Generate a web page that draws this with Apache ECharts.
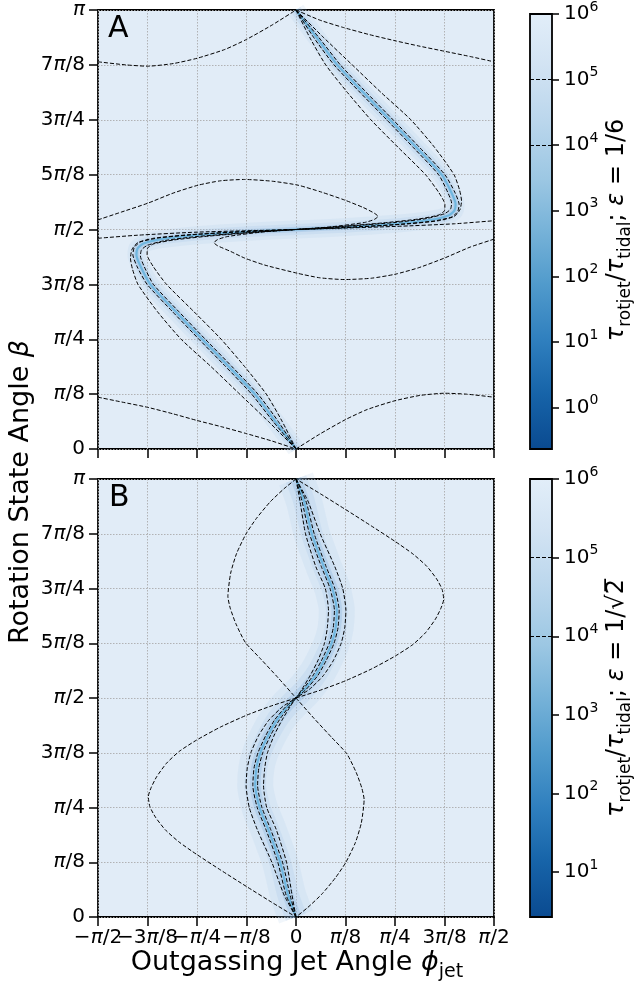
<!DOCTYPE html>
<html><head><meta charset="utf-8">
<script src="https://cdn.jsdelivr.net/npm/echarts@6/dist/echarts.min.js"></script>
<style>html,body{margin:0;padding:0;background:#fff}#c{width:637px;height:985px}</style>
</head><body><div id="c"></div>
<script>
// ---------- tick values / labels (units of pi) ----------
const xTickValues = [-0.5,-0.375,-0.25,-0.125,0,0.125,0.25,0.375,0.5];
const xTickLabels = ['−π/2','−3π/8','−π/4','−π/8','0','π/8','π/4','3π/8','π/2'];
const yTickValues = [0,0.125,0.25,0.375,0.5,0.625,0.75,0.875,1];
const yTickLabels = ['0','π/8','π/4','3π/8','π/2','5π/8','3π/4','7π/8','π'];
// colorbar: log10 range and decade ticks
const cbarRangeA = [-0.63, 6];
const cbarRangeB = [0.43, 6];
const cbarTicksA = [0,1,2,3,4,5,6];
const cbarTicksB = [1,2,3,4,5,6];
const contourLevels = [4,5];

// ---------- Panel A (eps = 1/6) contour lines, [phi/pi, beta/pi] ----------
const A_topLeft = [[-0.5,0.882],[-0.43,0.875],[-0.375,0.872],[-0.31,0.878],[-0.25,0.89],[-0.18,0.91],[-0.125,0.933],[-0.06,0.966],[0,1]];
const A_topRight = [[0,1],[0.06,0.977],[0.12,0.96],[0.185,0.944],[0.25,0.93],[0.31,0.918],[0.375,0.906],[0.44,0.894],[0.5,0.882]];
const A_botLeft = [[-0.5,0.118],[-0.44,0.107],[-0.375,0.095],[-0.31,0.08],[-0.25,0.065],[-0.185,0.05],[-0.125,0.035],[-0.06,0.018],[0,0]];
const A_botRight = [[0,0],[0.06,0.034],[0.125,0.067],[0.18,0.09],[0.25,0.11],[0.313,0.122],[0.375,0.127],[0.43,0.125],[0.5,0.118]];
const A_horiz = [[-0.5,0.48],[-0.4,0.487],[-0.25,0.494],[0,0.5],[0.25,0.507],[0.4,0.513],[0.5,0.52]];
const A_midUpper = [[-0.5,0.522],[-0.44,0.54],[-0.374,0.56],[-0.31,0.583],[-0.247,0.601],[-0.19,0.611],[-0.13,0.614],[-0.06,0.61],[0.005,0.601],[0.065,0.585],[0.123,0.567],[0.17,0.55],[0.198,0.537],[0.207,0.53],[0.198,0.523],[0.173,0.516],[0.088,0.506],[0,0.5]];
const A_midLower = [[0.5,0.478],[0.44,0.46],[0.375,0.435],[0.31,0.413],[0.25,0.398],[0.19,0.389],[0.123,0.386],[0.06,0.39],[0.005,0.4],[-0.079,0.419],[-0.13,0.435],[-0.165,0.45],[-0.198,0.463],[-0.207,0.47],[-0.198,0.477],[-0.173,0.484],[-0.088,0.494],[0,0.5]];
// upper diagonal band
const A_upRidge = [[0,1],[0.052,0.937],[0.104,0.875],[0.17,0.812],[0.237,0.75],[0.304,0.687],[0.368,0.625],[0.392,0.585],[0.403,0.558],[0.4,0.543],[0.385,0.532],[0.34,0.522],[0.25,0.513],[0.12,0.505],[0,0.5]];
const A_upInnerL = [[0,1],[0.045,0.937],[0.096,0.875],[0.162,0.812],[0.229,0.75],[0.296,0.687],[0.36,0.625],[0.383,0.585],[0.393,0.56],[0.39,0.546],[0.375,0.536],[0.33,0.525],[0.25,0.516],[0.12,0.507],[0,0.5]];
const A_upInnerR = [[0,1],[0.058,0.937],[0.112,0.875],[0.178,0.812],[0.245,0.75],[0.312,0.687],[0.376,0.625],[0.401,0.585],[0.412,0.557],[0.408,0.54],[0.392,0.528],[0.345,0.519],[0.25,0.511],[0.12,0.504],[0,0.5]];
const A_upOuterL = [[0,1],[0.035,0.937],[0.075,0.875],[0.13,0.812],[0.189,0.75],[0.258,0.687],[0.327,0.625],[0.36,0.585],[0.376,0.557],[0.375,0.543],[0.36,0.533],[0.31,0.524],[0.22,0.515],[0.1,0.506],[0,0.5]];
const A_upOuterR = [[0,1],[0.07,0.937],[0.142,0.875],[0.215,0.812],[0.29,0.75],[0.35,0.687],[0.399,0.625],[0.413,0.59],[0.418,0.565],[0.414,0.545],[0.4,0.53],[0.36,0.52],[0.27,0.512],[0.13,0.505],[0,0.5]];
// lower diagonal band
const A_loRidge = [[0,0],[-0.052,0.063],[-0.104,0.125],[-0.17,0.188],[-0.237,0.25],[-0.304,0.313],[-0.368,0.375],[-0.392,0.415],[-0.403,0.442],[-0.4,0.457],[-0.385,0.468],[-0.34,0.478],[-0.25,0.487],[-0.12,0.495],[0,0.5]];
const A_loInnerL = [[0,0],[-0.058,0.063],[-0.112,0.125],[-0.178,0.188],[-0.245,0.25],[-0.312,0.313],[-0.376,0.375],[-0.401,0.415],[-0.412,0.443],[-0.408,0.46],[-0.392,0.472],[-0.345,0.481],[-0.25,0.489],[-0.12,0.496],[0,0.5]];
const A_loInnerR = [[0,0],[-0.045,0.063],[-0.096,0.125],[-0.162,0.188],[-0.229,0.25],[-0.296,0.313],[-0.36,0.375],[-0.383,0.415],[-0.393,0.44],[-0.39,0.454],[-0.375,0.464],[-0.33,0.475],[-0.25,0.484],[-0.12,0.493],[0,0.5]];
const A_loOuterL = [[0,0],[-0.07,0.063],[-0.142,0.125],[-0.215,0.188],[-0.29,0.25],[-0.35,0.313],[-0.399,0.375],[-0.413,0.41],[-0.418,0.435],[-0.414,0.455],[-0.4,0.47],[-0.36,0.48],[-0.27,0.488],[-0.13,0.495],[0,0.5]];
const A_loOuterR = [[0,0],[-0.035,0.063],[-0.075,0.125],[-0.13,0.188],[-0.189,0.25],[-0.258,0.313],[-0.327,0.375],[-0.36,0.415],[-0.376,0.443],[-0.375,0.457],[-0.36,0.467],[-0.31,0.476],[-0.22,0.485],[-0.1,0.494],[0,0.5]];

// ---------- Panel B (eps = 1/sqrt2) contour lines ----------
const B_lobeUpperRight = [[0,0.5],[0.062,0.518],[0.124,0.539],[0.19,0.566],[0.251,0.596],[0.295,0.622],[0.327,0.649],[0.352,0.68],[0.366,0.705],[0.373,0.725],[0.369,0.748],[0.355,0.772],[0.33,0.801],[0.295,0.829],[0.251,0.857],[0.19,0.893],[0.124,0.931],[0.062,0.966],[0,1]];
const B_lobeLowerLeft = [[0,0.5],[-0.062,0.482],[-0.124,0.461],[-0.19,0.434],[-0.251,0.404],[-0.295,0.378],[-0.327,0.351],[-0.352,0.32],[-0.366,0.295],[-0.373,0.275],[-0.369,0.252],[-0.355,0.228],[-0.33,0.199],[-0.295,0.171],[-0.251,0.143],[-0.19,0.107],[-0.124,0.069],[-0.062,0.034],[0,0]];
const B_lobeUpperLeft = [[0,1],[-0.03,0.978],[-0.065,0.948],[-0.1,0.91],[-0.126,0.875],[-0.15,0.83],[-0.165,0.785],[-0.172,0.732],[-0.166,0.705],[-0.152,0.67],[-0.128,0.627],[-0.09,0.59],[-0.045,0.546],[0,0.5]];
const B_lobeLowerRight = [[0,0.5],[0.045,0.454],[0.09,0.41],[0.128,0.373],[0.152,0.33],[0.166,0.295],[0.172,0.268],[0.165,0.215],[0.15,0.17],[0.126,0.125],[0.1,0.09],[0.065,0.052],[0.03,0.022],[0,0]];
const B_upRidge = [[0,1],[0.02,0.95],[0.04,0.875],[0.07,0.8],[0.092,0.75],[0.103,0.7],[0.1,0.66],[0.09,0.625],[0.07,0.585],[0.048,0.55],[0.022,0.52],[0,0.5]];
const B_upInnerL = [[0,1],[0.015,0.95],[0.034,0.875],[0.064,0.8],[0.086,0.75],[0.097,0.7],[0.094,0.66],[0.084,0.625],[0.064,0.585],[0.042,0.55],[0.018,0.52],[0,0.5]];
const B_upInnerR = [[0,1],[0.025,0.95],[0.046,0.875],[0.076,0.8],[0.098,0.75],[0.109,0.7],[0.106,0.66],[0.096,0.625],[0.076,0.585],[0.054,0.55],[0.026,0.52],[0,0.5]];
const B_upOuterL = [[0,1],[0.01,0.95],[0.024,0.875],[0.05,0.8],[0.074,0.75],[0.082,0.7],[0.079,0.66],[0.072,0.625],[0.055,0.585],[0.035,0.55],[0.015,0.52],[0,0.5]];
const B_upOuterR = [[0,1],[0.03,0.95],[0.061,0.875],[0.098,0.8],[0.118,0.75],[0.126,0.7],[0.123,0.66],[0.114,0.625],[0.094,0.585],[0.068,0.55],[0.034,0.52],[0,0.5]];
const B_loRidge = [[0,0],[-0.02,0.05],[-0.04,0.125],[-0.07,0.2],[-0.092,0.25],[-0.103,0.3],[-0.1,0.34],[-0.09,0.375],[-0.07,0.415],[-0.048,0.45],[-0.022,0.48],[0,0.5]];
const B_loInnerL = [[0,0],[-0.025,0.05],[-0.046,0.125],[-0.076,0.2],[-0.098,0.25],[-0.109,0.3],[-0.106,0.34],[-0.096,0.375],[-0.076,0.415],[-0.054,0.45],[-0.026,0.48],[0,0.5]];
const B_loInnerR = [[0,0],[-0.015,0.05],[-0.034,0.125],[-0.064,0.2],[-0.086,0.25],[-0.097,0.3],[-0.094,0.34],[-0.084,0.375],[-0.064,0.415],[-0.042,0.45],[-0.018,0.48],[0,0.5]];
const B_loOuterL = [[0,0],[-0.03,0.05],[-0.061,0.125],[-0.098,0.2],[-0.118,0.25],[-0.126,0.3],[-0.123,0.34],[-0.114,0.375],[-0.094,0.415],[-0.068,0.45],[-0.034,0.48],[0,0.5]];
const B_loOuterR = [[0,0],[-0.01,0.05],[-0.024,0.125],[-0.05,0.2],[-0.074,0.25],[-0.082,0.3],[-0.079,0.34],[-0.072,0.375],[-0.055,0.415],[-0.035,0.45],[-0.015,0.48],[0,0.5]];

// ---------- build ----------
const FONT = 'DejaVu Sans';
const chart = echarts.init(document.getElementById('c'), null, {renderer:'canvas'});

function piLabel(list, vals) {
  return function (v) {
    let i = vals.findIndex(t => Math.abs(t - v) < 1e-6);
    if (i < 0) return '';
    return list[i].replace(/π/g, '{p|π}');
  };
}
const TICKFS = 20;
const piRich = { p: { fontStyle: 'italic', fontSize: TICKFS, fontFamily: FONT, color: '#000' } };
const gridLine = {show:true, lineStyle:{color:'#ababab', width:0.9, type:[1.5,1.5]}};

function mainX(gi, showLabels, labelVals) {
  return { type:'value', gridIndex:gi, min:-0.5, max:0.5, interval:0.125, position:'bottom',
    axisLine:{show:false, onZero:false},
    axisTick:{show:true, inside:false, length:9, lineStyle:{color:'#000', width:1.5}},
    axisLabel:{show:showLabels, margin:11, fontSize:TICKFS, fontFamily:FONT, color:'#000',
      showMinLabel:true, showMaxLabel:true, hideOverlap:false, customValues: labelVals,
      formatter: piLabel(xTickLabels, xTickValues), rich: piRich},
    splitLine:gridLine };
}
// extra label-only axis so that overlapping neighbour labels are all kept
function labelOnlyX(gi, labelVals) {
  return { type:'value', gridIndex:gi, min:-0.5, max:0.5, position:'bottom',
    axisLine:{show:false, onZero:false}, axisTick:{show:false}, splitLine:{show:false},
    axisLabel:{show:true, margin:11, fontSize:TICKFS, fontFamily:FONT, color:'#000',
      hideOverlap:false, customValues: labelVals,
      formatter: piLabel(xTickLabels, xTickValues), rich: piRich} };
}
function mainY(gi) {
  return { type:'value', gridIndex:gi, min:0, max:1, interval:0.125, position:'left',
    axisLine:{show:false, onZero:false},
    axisTick:{show:true, inside:false, length:9, lineStyle:{color:'#000', width:1.5}},
    axisLabel:{show:true, margin:13, fontSize:TICKFS, fontFamily:FONT, color:'#000',
      showMinLabel:true, showMaxLabel:true,
      formatter: piLabel(yTickLabels, yTickValues), rich: piRich},
    splitLine:gridLine };
}
function cbarY(gi, range, ticks) {
  return { type:'value', gridIndex:gi, min:range[0], max:range[1], position:'right',
    axisLine:{show:false, onZero:false},
    axisTick:{show:true, inside:false, length:7, lineStyle:{color:'#000', width:1.5}, customValues: ticks},
    axisLabel:{show:true, margin:12, color:'#000', customValues: ticks,
      formatter: v => '{b|10}{s|' + Math.round(v) + '}',
      rich:{ b:{fontSize:20, fontFamily:FONT, color:'#000', lineHeight:28, verticalAlign:'middle'},
             s:{fontSize:14, fontFamily:FONT, color:'#000', lineHeight:15, verticalAlign:'top'} } },
    splitLine:{show:false} };
}
const cmapStops = [
  {offset:0, color:'#e2eef9'}, {offset:0.12, color:'#d2e3f3'}, {offset:0.25, color:'#bad6ec'},
  {offset:0.38, color:'#9cc7e3'}, {offset:0.5, color:'#76b2d8'}, {offset:0.62, color:'#519bcc'},
  {offset:0.75, color:'#2f7fbe'}, {offset:0.87, color:'#1764a9'}, {offset:1, color:'#0a4a90'} ];
function cbarGrad() { return new echarts.graphic.LinearGradient(0,0,0,1, cmapStops); }

function contour(data, gi) {
  return { type:'line', xAxisIndex:gi, yAxisIndex:gi, data:data, showSymbol:false, symbol:'none',
    smooth:0.2, silent:true, animation:false, z:5,
    lineStyle:{color:'#000', width:1, type:[4,2]} };
}
function glow(data, gi, w, color, alpha, z) {
  return { type:'line', xAxisIndex:gi, yAxisIndex:gi, data:data, showSymbol:false, symbol:'none',
    smooth:0.2, silent:true, animation:false, z:z,
    lineStyle:{color:color, opacity:alpha, width:w, cap:'butt', join:'round'} };
}
function ridgeSeries(data, gi, wide) {
  return [
    glow(data, gi, wide, '#a6c9e8', 0.16, 2),
    glow(data, gi, wide*0.6, '#94bfe3', 0.18, 2),
    glow(data, gi, wide*0.3, '#78addb', 0.25, 3),
    glow(data, gi, 2.2, '#68b4de', 0.9, 4)
  ];
}

const series = [];
ridgeSeries(A_upRidge, 0, 18).forEach(s => series.push(s));
ridgeSeries(A_loRidge, 0, 18).forEach(s => series.push(s));
ridgeSeries(B_upRidge, 1, 36).forEach(s => series.push(s));
ridgeSeries(B_loRidge, 1, 36).forEach(s => series.push(s));
[A_topLeft, A_topRight, A_botLeft, A_botRight, A_horiz, A_midUpper, A_midLower,
 A_upInnerL, A_upInnerR, A_upOuterL, A_upOuterR, A_loInnerL, A_loInnerR, A_loOuterL, A_loOuterR]
  .forEach(d => series.push(contour(d, 0)));
[B_lobeUpperRight, B_lobeLowerLeft, B_lobeUpperLeft, B_lobeLowerRight,
 B_upInnerL, B_upInnerR, B_upOuterL, B_upOuterR, B_loInnerL, B_loInnerR, B_loOuterL, B_loOuterR]
  .forEach(d => series.push(contour(d, 1)));
// colorbar contour-level marks
[[2, cbarRangeA],[3, cbarRangeB]].forEach(([gi, r]) => {
  series.push({ type:'line', xAxisIndex:gi, yAxisIndex:gi, data:[[0, r[0]]], showSymbol:false, symbol:'none',
    silent:true, animation:false, lineStyle:{opacity:0},
    markLine:{ silent:true, symbol:'none', animation:false, label:{show:false},
      lineStyle:{color:'#000', width:1, type:[4,2]},
      data: contourLevels.map(v => ({yAxis:v})) } });
});

const subRich = (base, sub) => ({
  n:{fontSize:base, fontFamily:FONT, color:'#000', lineHeight:base+10, verticalAlign:'middle'},
  i:{fontSize:base, fontFamily:FONT, fontStyle:'italic', color:'#000', lineHeight:base+10, verticalAlign:'middle'},
  s:{fontSize:sub, fontFamily:FONT, color:'#000', lineHeight:sub+1, verticalAlign:'bottom'}
});

const evenX = xTickValues.filter((v, i) => i % 2 === 0);
const oddX = xTickValues.filter((v, i) => i % 2 === 1);

const option = {
  animation:false,
  backgroundColor:'#fff',
  textStyle:{fontFamily:FONT},
  grid:[
    {left:98, top:10, width:396, height:439, show:true, backgroundColor:'#e1ecf7', borderColor:'#000', borderWidth:1.8, z:0},
    {left:98, top:479, width:396, height:438, show:true, backgroundColor:'#e1ecf7', borderColor:'#000', borderWidth:1.8, z:0},
    {left:530, top:10, width:22, height:439, show:true, backgroundColor:cbarGrad(), borderColor:'#000', borderWidth:1.8},
    {left:530, top:479, width:22, height:438, show:true, backgroundColor:cbarGrad(), borderColor:'#000', borderWidth:1.8}
  ],
  xAxis:[ mainX(0,false), mainX(1,true, evenX),
    {type:'value', gridIndex:2, min:0, max:1, show:false},
    {type:'value', gridIndex:3, min:0, max:1, show:false},
    labelOnlyX(1, oddX) ],
  yAxis:[ mainY(0), mainY(1), cbarY(2, cbarRangeA, cbarTicksA), cbarY(3, cbarRangeB, cbarTicksB) ],
  series: series,
  graphic:[
    {type:'text', left:108, top:14, z:100, style:{text:'A', font:'30px "DejaVu Sans"', fill:'#000'}},
    {type:'text', left:109, top:483, z:100, style:{text:'B', font:'30px "DejaVu Sans"', fill:'#000'}},
    {type:'text', x:21, y:492, rotation:Math.PI/2, z:100,
      style:{text:'{n|Rotation State Angle }{i|β}', rich:subRich(27,19), align:'center', verticalAlign:'middle'}},
    {type:'text', x:297, y:963, z:100,
      style:{text:'{n|Outgassing Jet Angle }{i|ϕ}{s|jet}', rich:subRich(27,19), align:'center', verticalAlign:'middle'}},
    {type:'text', x:617, y:230, rotation:Math.PI/2, z:100,
      style:{text:'{i|τ}{s|rotjet}{n|/}{i|τ}{s|tidal}{n|; }{i|ε}{n| = 1/6}', rich:subRich(24,17), align:'center', verticalAlign:'middle'}},
    {type:'text', x:617, y:698, rotation:Math.PI/2, z:100,
      style:{text:'{i|τ}{s|rotjet}{n|/}{i|τ}{s|tidal}{n|; }{i|ε}{n| = 1/√2̅}', rich:subRich(24,17), align:'center', verticalAlign:'middle'}}
  ]
};
chart.setOption(option);
</script>
</body></html>
